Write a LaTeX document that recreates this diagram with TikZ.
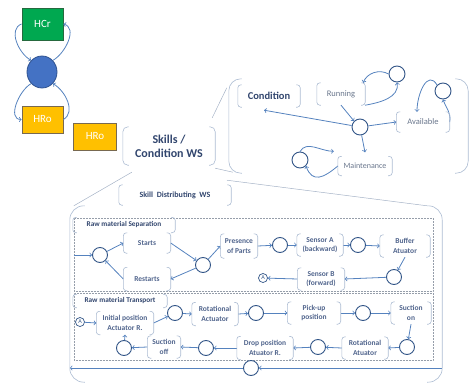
\documentclass[tikz,border=0pt]{standalone}
\usepackage{fontspec}
\setmainfont{Carlito}
\usepackage{tikz}
\usetikzlibrary{arrows,shapes.geometric}

\definecolor{hcrgreen}{RGB}{0,168,80}
\definecolor{hcrline}{RGB}{38,105,62}
\definecolor{hrogold}{RGB}{255,192,0}
\definecolor{hroline}{RGB}{120,105,80}
\definecolor{hubblue}{RGB}{68,114,196}
\definecolor{hubline}{RGB}{47,82,143}
\definecolor{linkcol}{RGB}{85,130,190}
\definecolor{statecol}{RGB}{50,85,135}
\definecolor{brkcol}{RGB}{172,188,210}
\definecolor{guidecol}{RGB}{165,178,198}
\definecolor{dashcol}{RGB}{150,158,170}
\definecolor{txtcol}{RGB}{105,118,140}
\definecolor{headcol}{RGB}{50,70,110}
\definecolor{stepcol}{RGB}{80,100,140}

\tikzset{
  sz/.style 2 args={minimum width=#1pt, minimum height=#2pt},
  hbox/.style={draw, line width=0.8pt, text=white, font=\fontsize{11}{12}\selectfont, inner sep=0pt},
  st/.style={circle, draw=statecol, line width=0.9pt, minimum size=15pt, inner sep=0pt},
  mini/.style={circle, draw=statecol, line width=0.7pt, minimum size=9pt, inner sep=0pt, text=statecol, font=\fontsize{6}{6}\selectfont},
  lbl/.style={text=txtcol, font=\fontsize{8.5}{10}\selectfont, inner sep=0pt, align=center},
  act/.style={text=stepcol, font=\bfseries\fontsize{7.5}{9.5}\selectfont, inner sep=0pt, align=center},
  head/.style={text=headcol, inner sep=0pt, align=center},
  link/.style={->, draw=linkcol, line width=0.8pt},
  brkline/.style={draw=brkcol, line width=0.6pt},
  guide/.style={draw=guidecol, line width=0.5pt},
  dashbox/.style={draw=dashcol, densely dotted, line width=0.5pt, inner sep=0pt}
}

% rounded bracket pair round a node
\newcommand\brkt[2][3]{%
  \draw[brkline, rounded corners=#1pt]
    ([xshift=#1pt+1pt]#2.north west) -| (#2.south west) -- ++(#1pt+1pt,0)
    ([xshift=-#1pt-1pt]#2.north east) -| (#2.south east) -- ++(-#1pt-1pt,0);}

\begin{document}
\begin{tikzpicture}[x=1pt,y=-1pt,>=to]
\useasboundingbox (0,0) rectangle (472,383);

% robots round the hub
\node[hbox, fill=hcrgreen, draw=hcrline, sz={41}{32}] (HCr) at (42.5,24) {HCr};
\node[ellipse, fill=hubblue, draw=hubline, line width=0.8pt, inner sep=0pt, sz={30}{32}] (hub) at (42,72) {};
\node[hbox, fill=hrogold, draw=hroline, sz={41}{27}] (HRo) at (42.5,119.5) {HRo};
\node[hbox, fill=hrogold, draw=hroline, sz={43}{27}] (HRo2) at (95,136.5) {HRo};

\draw[link] (HCr.west) to[out=200,in=150] (hub.north west);
\draw[link] (hub.north east) to[out=30,in=-15] (HCr.east);
\draw[link] (hub.south west) to[out=210,in=180] (HRo.west);
\draw[link] (HRo.east) to[out=30,in=-30] (hub.south east);

% skills / condition
\node[head, font=\bfseries\fontsize{12}{14}\selectfont, sz={92}{38}] (skills) at (169,146) {Skills /\\Condition WS};
\node[sz={239}{94}] (condreg) at (348.5,126) {};
\node[head, font=\bfseries\fontsize{10.5}{12}\selectfont, sz={62}{22}] (cond) at (269,96) {Condition};
\node[lbl, sz={48}{22}] (run) at (341,94) {Running};
\node[lbl, sz={53}{20}] (avail) at (423,122) {Available};
\node[lbl, font=\fontsize{8}{9}\selectfont, sz={54}{19}] (maint) at (365,166) {Maintenance};
\node[st, minimum size=16pt] (c0) at (360,127) {};
\node[st, minimum size=16pt] (crun) at (397,74) {};
\node[st, minimum size=16pt] (cav) at (443,91) {};
\node[st, minimum size=16pt] (cma) at (300,160) {};

\draw[link] (c0) -- ([xshift=-5pt,yshift=-3pt]cond.south);
\draw[link] (run.south) -- (c0.north west);
\draw[link] (c0) -- (avail.west);
\draw[link] (c0) -- ([yshift=4pt]maint.north);
\draw[link] (crun.west) to[out=150,in=70] ([xshift=-2pt]run.north east);
\draw[link] (run.south east) to[out=10,in=-80] (crun.south);
\draw[link] (cav.north west) to[out=120,in=90,looseness=1.4] ([xshift=-6pt]avail.north);
\draw[link] (avail.east) to[out=80,in=-70] (cav.south);
\draw[link] (cma.north) to[out=60,in=180] ([xshift=-4pt,yshift=5pt]maint.north west);
\draw[link] (maint.west) to[out=220,in=-70,looseness=1.5] (cma.south east);

% guide lines
\draw[guide] ([shift={(-3,-9)}]skills.north east) -- ([shift={(-2,9)}]condreg.north west);
\draw[guide] ([shift={(0,3)}]skills.south east) -- ([shift={(4,-1)}]condreg.south west);
\node[head, font=\bfseries\fontsize{8}{9}\selectfont, sz={112}{20}] (distT) at (175,195) {Skill\ \ Distributing\ \ WS};
\node[sz={372}{176}] (dist) at (256,294) {};
\draw[guide] ([shift={(-2,7)}]condreg.south west) -- ([xshift=-15pt]dist.north east);
\draw[guide] ([shift={(9,7)}]skills.south west) -- ([xshift=4pt]dist.north west);

% raw material separation
\node[dashbox, sz={359}{73}] (sepbox) at (253.5,254.5) {};
\node[head, font=\bfseries\fontsize{7.3}{8}\selectfont, sz={102}{15}] (sepT) at (124,225) {Raw material Separation};
\node[st] (s1) at (100,255) {};
\node[act, sz={47}{20}] (starts) at (147,243) {Starts};
\node[act, sz={47}{23}] (restart) at (147,279) {Restarts};
\node[st] (s2) at (203,265) {};
\node[act, sz={37}{24}] (pres) at (239,246) {Presence\\of Parts};
\node[st] (s3) at (280,245) {};
\node[act, sz={46}{22}] (sensA) at (320,245) {Sensor A\\(backward)};
\node[st] (s4) at (358,245) {};
\node[act, sz={50}{22}] (buf) at (405,246) {Buffer\\Atuator};
\node[st] (s5) at (394,277) {};
\node[act, sz={47}{22}] (sensB) at (321,279) {Sensor B\\(forward)};
\node[mini] (sA) at (263,278) {A};

\draw[link] (sepbox.west |- s1) -- (s1);
\draw[link] (s1) -- (starts.west);
\draw[link] (starts.east) -- (s2);
\draw[link] (s2) -- (pres.west);
\draw[link] (pres.east) -- (s3);
\draw[link] (s3) -- (sensA.west);
\draw[link] (sensA.east) -- (s4);
\draw[link] (s4) -- (buf.west);
\draw[link] (buf.south) -- (s5);
\draw[link] (s5) -- (sensB.east);
\draw[link] (sensB.west) -- (sA);
\draw[link] (s2) -- (restart.east);
\draw[link] (restart.west) -- (s1);

% raw material transport
\node[dashbox, sz={359}{67}] (trbox) at (253.5,326.5) {};
\node[head, font=\bfseries\fontsize{7.3}{8}\selectfont, sz={94}{13}] (trT) at (120,301) {Raw material Transport};
\node[mini] (tA) at (80,322) {A};
\node[act, sz={57}{23}] (init) at (125,323) {Initial position\\Actuator R.};
\node[st] (t1) at (175,313) {};
\node[act, sz={46}{23}] (rot1) at (215,314) {Rotational\\Actuator};
\node[st] (t2) at (256,313) {};
\node[act, sz={53}{22}] (pick) at (314,313) {Pick-up\\position};
\node[st] (t3) at (363,313) {};
\node[act, sz={40}{22}] (suc) at (411,313) {Suction\\on};
\node[st] (t4) at (407,347) {};
\node[act, sz={46}{22}] (rot2) at (365,348) {Rotational\\Atuator};
\node[st] (t5) at (318,347) {};
\node[act, sz={56}{23}] (drop) at (265,348) {Drop position\\Atuator R.};
\node[st] (t6) at (206,348) {};
\node[act, sz={33}{22}] (sucoff) at (164,347) {Suction\\off};
\node[st] (t7) at (124,348) {};

\draw[link] (tA) -- (init.west);
\draw[link] (init.east) -- (t1);
\draw[link] (t1) -- (rot1.west);
\draw[link] (rot1.east) -- (t2);
\draw[link] (t2) -- (pick.west);
\draw[link] (pick.east) -- (t3);
\draw[link] (t3) -- (suc.west);
\draw[link] (suc.south) -- (t4);
\draw[link] (t4) -- (rot2.east);
\draw[link] (rot2.west) -- (t5);
\draw[link] (t5) -- (drop.east);
\draw[link] (drop.west) -- (t6);
\draw[link] (t6) -- (sucoff.east);
\draw[link] (sucoff.west) -- (t7);
\draw[link] (t7) -- (init.south);

% loop back
\node[st] (back) at (251,368) {};
\draw[link] (dist.east |- back) -- (back);
\draw[link] (back) -- (dist.west |- back);

% brackets
\foreach \n in {distT,cond,run,avail,maint,sepT,starts,restart,pres,sensA,buf,sensB,trT,init,rot1,pick,suc,rot2,drop,sucoff} {\brkt{\n}}
\brkt[5]{skills}
\brkt[12]{condreg}
\brkt[14]{dist}
\end{tikzpicture}
\end{document}
